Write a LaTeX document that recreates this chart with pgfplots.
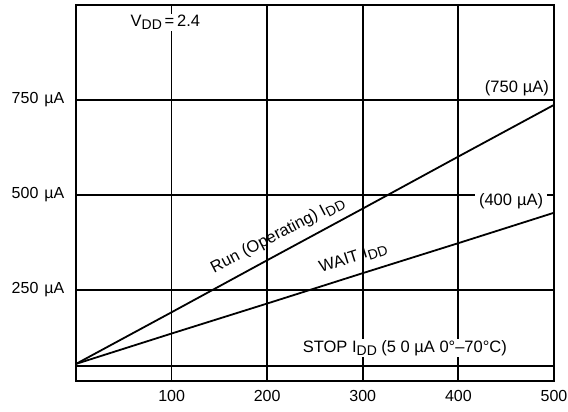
\documentclass[border=0pt]{standalone}
\usepackage{pgfplots}
\pgfplotsset{compat=1.18}
\usepackage{fontspec}
\setmainfont{Liberation Sans}
\newcommand{\sub}[1]{\raisebox{-3.5pt}{\fontsize{14}{14}\selectfont #1}}

\begin{document}
\fontsize{16.5}{19}\selectfont
\begin{tikzpicture}
\useasboundingbox (-76pt,-31pt) rectangle (492pt,381pt);
\begin{axis}[
  width=478pt, height=376pt, scale only axis,
  xmin=0, xmax=500, ymin=10, ymax=1000,
  xtick={100,200,300,400,500},
  ytick={250,500,750},
  yticklabels={250\hspace{6pt}µA, 500\hspace{6pt}µA, 750\hspace{6pt}µA},
  grid=major,
  major grid style={black, line width=1.8pt},
  axis line style={black, line width=1.8pt},
  major tick length=0pt,
  /pgf/number format/assume math mode=true,
  tick label style={font=\fontsize{16}{19}\selectfont},
  xticklabel style={yshift=-4pt},
  yticklabel style={xshift=-6pt},
]
\addplot[black, line width=1.8pt] coordinates {(0,55) (100,191) (200,328) (300,464) (400,601) (500,737)};
\addplot[black, line width=1.8pt] coordinates {(0,55) (100,135) (200,214) (300,294) (400,373) (500,453)};
\addplot[black, line width=1.8pt] coordinates {(0,50) (500,50)};

\node[anchor=west, fill=white, inner sep=1pt] at (axis cs:56,955) {V\sub{DD}\,=\,2.4};
\node[anchor=east, inner sep=1pt] at (axis cs:496,781) {(750\hspace{5pt}µA)};
\node[anchor=east, fill=white, inner xsep=4pt, inner ysep=1pt] at (axis cs:493,484) {(400\hspace{5pt}µA)};
\node[rotate=27.5] at (axis cs:211,394) {Run (Operating) I\sub{DD}};
\node[rotate=17.6] at (axis cs:290,333) {WAIT I\sub{DD}};
\node[fill=white, inner sep=1pt] at (axis cs:344,97) {STOP I\sub{DD} (5 0 µA 0°–70°C)};
\end{axis}
\end{tikzpicture}
\end{document}
